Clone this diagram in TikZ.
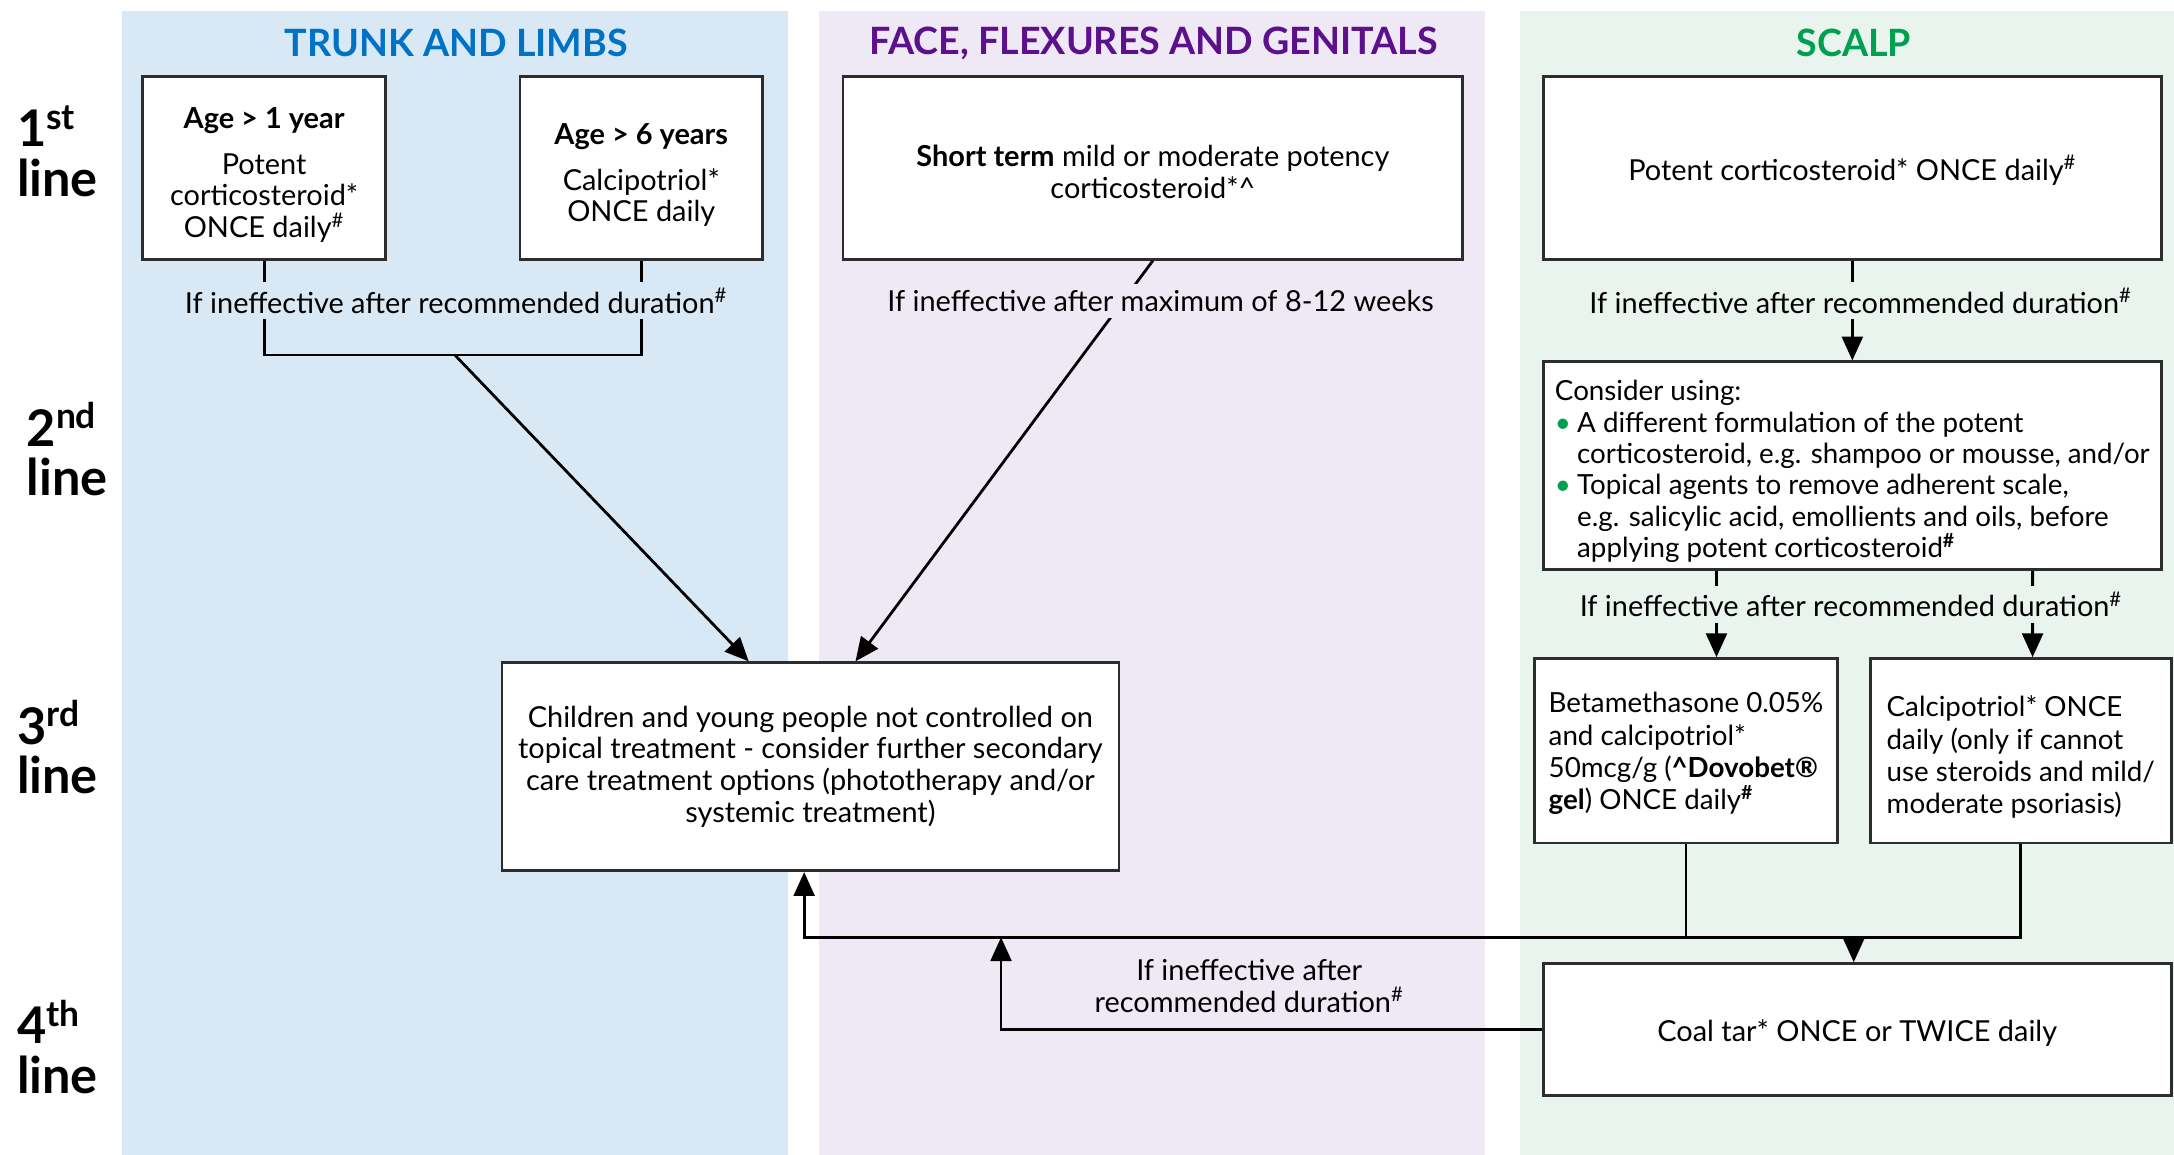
\documentclass[tikz,border=0pt]{standalone}
\usepackage{fontspec}
\setmainfont{Lato}
\usetikzlibrary{arrows.meta,calc,positioning}
\usepackage{xcolor}
\newcommand{\pxu}{0.7pt}
\newcommand{\bodyfont}{\fontsize{14.6}{16.1}\selectfont}
\newcommand{\smallbodyfont}{\fontsize{14}{15.8}\selectfont}
\newcommand{\narrowbodyfont}{\fontsize{14}{16.3}\selectfont}
\newcommand{\hashsup}{\textsuperscript{\#}}
\newcommand{\topstrut}[1]{\rule{0pt}{#1}}
\newcommand{\gbul}{\makebox[11.2pt][l]{\textcolor{scalpcol}{\textbullet}}}
\newcommand{\gind}{\hspace*{11.2pt}}
\definecolor{trunkbg}{RGB}{217,232,245}
\definecolor{facebg}{RGB}{239,233,245}
\definecolor{scalpbg}{RGB}{234,244,238}
\definecolor{trunkcol}{RGB}{0,114,198}
\definecolor{facecol}{RGB}{92,16,140}
\definecolor{scalpcol}{RGB}{0,160,80}
\definecolor{boxgray}{RGB}{45,45,45}
\tikzset{
    boxsty/.style={draw=boxgray,line width=1.4pt,fill=white,align=center,inner sep=0pt,font=\bodyfont},
    lblsty/.style={font=\bodyfont,inner xsep=2pt,inner ysep=3pt,align=center},
    titlesty/.style={font=\fontsize{19}{22}\selectfont\bfseries},
    rowsty/.style={font=\fontsize{25.5}{25}\selectfont\bfseries,align=left,anchor=west,inner sep=0pt},
    linesty/.style={line width=1.4pt,draw=black},
}

\begin{document}
\begin{tikzpicture}[x=\pxu,y=-\pxu,>={Triangle[length=12pt,width=10.5pt]}]
\useasboundingbox (0,0) rectangle (1568,833);
\fill[trunkbg] (88,8) rectangle (568,833);
\fill[facebg] (591,8) rectangle (1071,833);
\fill[scalpbg] (1096,8) rectangle (1568,833);

\node[titlesty,text=trunkcol] (ttitle) at (329,31) {TRUNK AND LIMBS};
\node[titlesty,text=facecol] (ftitle) at (832,31) {FACE, FLEXURES AND GENITALS};
\node[titlesty,text=scalpcol] (stitle) at (1337,31) {SCALP};

\node[rowsty] (row1) at (12,109) {1\textsuperscript{st}\\line};
\node[rowsty] (row2) at (19,324) {2\textsuperscript{nd}\\line};
\node[rowsty] (row3) at (12,539) {3\textsuperscript{rd}\\line};
\node[rowsty] (row4) at (12,755) {4\textsuperscript{th}\\line};

\node[boxsty,minimum width=175*\pxu,minimum height=132*\pxu] (a1) at (190.5,121)
    {\topstrut{18pt}\textbf{Age > 1 year}\\[7pt]Potent\\corticosteroid*\\ONCE daily\hashsup};
\node[boxsty,minimum width=175*\pxu,minimum height=132*\pxu] (a6) at (462.5,121)
    {\topstrut{18pt}\textbf{Age > 6 years}\\[7pt]Calcipotriol*\\ONCE daily};
\node[boxsty,minimum width=447*\pxu,minimum height=132*\pxu] (face1) at (831.5,121)
    {\topstrut{15pt}\textbf{Short term} mild or moderate potency\\corticosteroid*\textasciicircum};
\node[boxsty,minimum width=446*\pxu,minimum height=132*\pxu] (scalp1) at (1336,121)
    {\topstrut{15pt}Potent corticosteroid* ONCE daily\hashsup};
\node[boxsty,align=left,font=\smallbodyfont,minimum width=446*\pxu,minimum height=150*\pxu] (scalp2) at (1336,336)
    {\topstrut{16pt}Consider using:\\
     \gbul A different formulation of the potent\\
     \gind corticosteroid, e.g. shampoo or mousse, and/or\\
     \gbul Topical agents to remove adherent scale,\\
     \gind e.g. salicylic acid, emollients and oils, before\\
     \gind applying potent corticosteroid\textsuperscript{\textbf{\#}}};
\node[boxsty,minimum width=445*\pxu,minimum height=150*\pxu] (third) at (584.5,553)
    {Children and young people not controlled on\\topical treatment - consider further secondary\\care treatment options (phototherapy and/or\\systemic treatment)};
\node[boxsty,align=left,font=\narrowbodyfont,minimum width=218*\pxu,minimum height=133*\pxu] (beta) at (1216,541.5)
    {\topstrut{13pt}Betamethasone 0.05\%\\and calcipotriol*\\50mcg/g (\textbf{\textasciicircum Dovobet®}\\\textbf{gel}) ONCE daily\textsuperscript{\textbf{\#}}};
\node[boxsty,align=left,font=\narrowbodyfont,minimum width=217*\pxu,minimum height=133*\pxu] (calc) at (1457.5,541.5)
    {\topstrut{17pt}Calcipotriol* ONCE\\daily (only if cannot\\use steroids and mild/\\moderate psoriasis)};
\node[boxsty,minimum width=453*\pxu,minimum height=95*\pxu] (coal) at (1339.5,742.5)
    {\topstrut{15pt}Coal tar* ONCE or TWICE daily};

\coordinate (tjoin) at (328,256);
\coordinate (mjoin) at (1337,676);
\coordinate (backtip) at (722,676);

\draw[linesty] (a1.south) |- (tjoin) -| (a6.south);
\draw[linesty,->] (tjoin) -- ([xshift=-44.5*\pxu]third.north);
\draw[linesty,->] (face1.south) -- ([xshift=32.5*\pxu]third.north);
\draw[linesty,->] (scalp1) -- (scalp2);
\draw[linesty,->] ([xshift=-98*\pxu]scalp2.south) -- ([xshift=22*\pxu]beta.north);
\draw[linesty,->] ([xshift=130*\pxu]scalp2.south) -- ([xshift=8.5*\pxu]calc.north);
\draw[linesty] (beta.south) |- (mjoin) -| (calc.south);
\draw[linesty,->] (mjoin) -- (mjoin |- coal.north);
\draw[linesty,->] (beta.south |- mjoin) -| ([xshift=-4.5*\pxu]third.south);
\draw[linesty,->] (coal.west) -| (backtip);

\node[lblsty,fill=trunkbg] (tlbl) at (329,217) {If ineffective after recommended duration\hashsup};
\node[lblsty,fill=facebg] (flbl) at (837,217) {If ineffective after maximum of 8-12 weeks};
\node[lblsty,fill=scalpbg] (slbl1) at (1342,217) {If ineffective after recommended duration\hashsup};
\node[lblsty,fill=scalpbg] (slbl2) at (1335,436) {If ineffective after recommended duration\hashsup};
\node[lblsty] (backlbl) at (901,711) {If ineffective after\\recommended duration\hashsup};
\end{tikzpicture}
\end{document}
